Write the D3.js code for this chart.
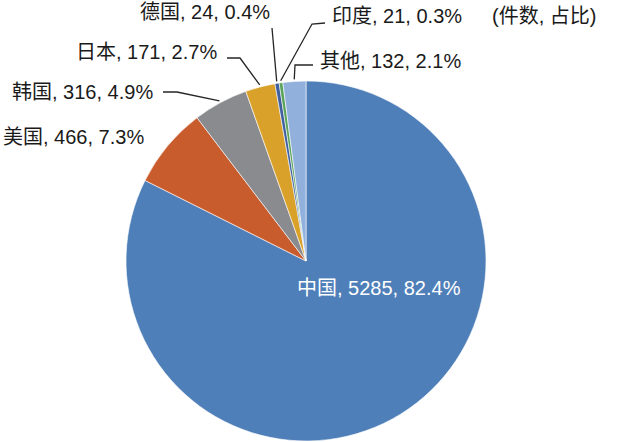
<!DOCTYPE html>
<html><head><meta charset="utf-8">
<script src="https://cdn.jsdelivr.net/npm/d3@7"></script>
<style>html,body{margin:0;padding:0;background:#fff;overflow:hidden}</style>
</head><body><svg id="c" width="620" height="442"></svg>
<script>
const categories = ["中国", "美国", "韩国", "日本", "德国", "印度", "其他"];
const counts = [5285, 466, 316, 171, 24, 21, 132];
const shares = ["82.4%", "7.3%", "4.9%", "2.7%", "0.4%", "0.3%", "2.1%"];
const colors = ["#4f7fb8", "#c95c2d", "#898b8f", "#d9a12a", "#3f5f9f", "#5aa25a", "#91b1dc"];
const unitNote = "(件数, 占比)";

// label layout: text anchor point and optional leader elbow points
const labelLayout = [
  {x: 297, y: 295, fill: "#ffffff", line: null},
  {x: 3, y: 144, fill: "#1a1a1a", line: null},
  {x: 12, y: 99, fill: "#1a1a1a", line: [[163, 92], [177, 92]]},
  {x: 76, y: 59, fill: "#1a1a1a", line: [[227, 58], [240, 58]]},
  {x: 140, y: 19, fill: "#1a1a1a", line: [[272, 28]]},
  {x: 332, y: 23, fill: "#1a1a1a", line: [[325, 23], [312, 24]]},
  {x: 320, y: 68, fill: "#1a1a1a", line: [[313, 65], [295, 65]]}
];

const cx = 306, cy = 261, R = 180;
const svg = d3.select("#c");
const font = "'Liberation Sans', Arial, 'Noto Sans CJK SC', sans-serif";

const pie = d3.pie().sort(null).value(d => d)(counts);
const arc = d3.arc().innerRadius(0).outerRadius(R);
const g = svg.append("g").attr("transform", `translate(${cx},${cy})`);
g.selectAll("path").data(pie).join("path")
  .attr("d", arc)
  .attr("fill", (d, i) => colors[i])
  .attr("stroke", "#ffffff")
  .attr("stroke-width", 0.6);

const edgeArc = d3.arc().innerRadius(R + 2).outerRadius(R + 2);
const line = d3.line();
pie.forEach((d, i) => {
  const L = labelLayout[i];
  if (L.line) {
    const p = edgeArc.centroid(d);
    const pts = L.line.concat([[p[0] + cx, p[1] + cy]]);
    svg.append("path").attr("d", line(pts))
      .attr("fill", "none").attr("stroke", "#262626").attr("stroke-width", 1.3);
  }
  svg.append("text")
    .attr("x", L.x).attr("y", L.y)
    .attr("font-family", font).attr("font-size", 20)
    .attr("fill", L.fill)
    .text(`${categories[i]}, ${counts[i]}, ${shares[i]}`);
});

svg.append("text").attr("x", 492).attr("y", 23)
  .attr("font-family", font).attr("font-size", 20).attr("fill", "#1a1a1a")
  .text(unitNote);
</script>
</body></html>
